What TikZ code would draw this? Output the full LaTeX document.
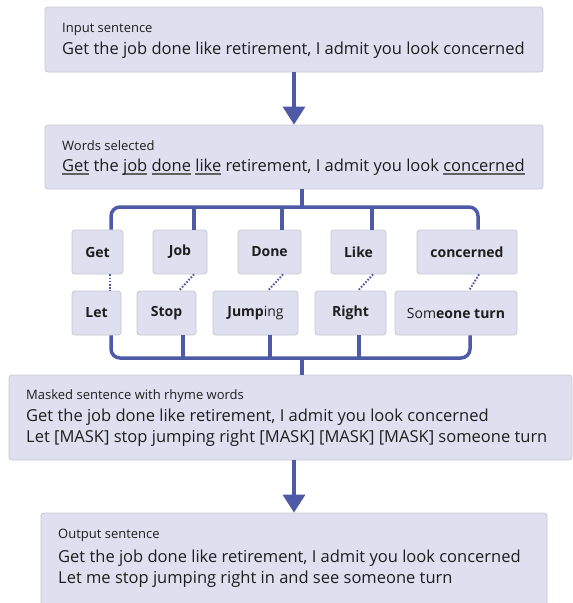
\documentclass[tikz,border=0pt]{standalone}
\usepackage{fontspec}
\setmainfont{Open Sans}
\usepackage{xcolor}
\usetikzlibrary{arrows.meta}
\definecolor{boxfill}{RGB}{222,224,239}
\definecolor{boxedge}{RGB}{198,200,212}
\definecolor{flowblue}{RGB}{78,90,166}
\definecolor{ink}{RGB}{30,30,30}
\newcommand\picked[1]{\sbox0{#1}\rlap{\raisebox{-3.5pt}{\color{ink!70}\rule{\wd0}{1.3pt}}}#1}

\begin{document}
\begin{tikzpicture}[x=1pt,y=-1pt]
\tikzset{panel/.style={draw=boxedge,fill=boxfill,rounded corners=3pt,line width=0.8pt}}
\tikzset{word/.style={panel,minimum height=44pt,inner sep=0pt,font=\fontsize{14}{16}\selectfont\bfseries,text=ink}}
\tikzset{heading/.style={anchor=base west,inner sep=0pt,text=ink,font=\fontsize{13}{15}\selectfont}}
\tikzset{body/.style={anchor=base west,inner sep=0pt,text=ink,font=\fontsize{16.5}{19}\selectfont}}
\tikzset{bus/.style={draw=flowblue,line width=3.5pt,rounded corners=9pt}}
\tikzset{flow/.style={draw=flowblue,line width=3.5pt,-{Triangle[width=22pt,length=18pt]}}}
\tikzset{rhyme/.style={draw=flowblue,line width=2pt,dash pattern=on 1.6pt off 1.6pt}}

\useasboundingbox (0,0) rectangle (573,603);

% panels
\node[panel,minimum width=498pt,minimum height=65pt] (in) at (294,39.5) {};
\node[panel,minimum width=498pt,minimum height=64pt] (sel) at (294,157) {};
\node[panel,minimum width=563pt,minimum height=85pt] (mask) at (290.5,417.5) {};
\node[panel,minimum width=506pt,minimum height=94pt] (out) at (294,560) {};

\node[heading] (intitle) at (62,32) {Input sentence};
\node[body] (intext) at (62,54) {Get the job done like retirement, I admit you look concerned};
\node[heading] (seltitle) at (62,150) {Words selected};
\node[body] (seltext) at (62,171) {\picked{Get} the \picked{job} \picked{done} \picked{like} retirement, I admit you look \picked{concerned}};
\node[heading] (masktitle) at (26,399) {Masked sentence with rhyme words};
\node[body] (maskone) at (26,421) {Get the job done like retirement, I admit you look concerned};
\node[body] (masktwo) at (26,442) {Let [MASK] stop jumping right [MASK] [MASK] [MASK] someone turn};
\node[heading] (outtitle) at (58,538) {Output sentence};
\node[body] (outone) at (58,562) {Get the job done like retirement, I admit you look concerned};
\node[body] (outtwo) at (58,583) {Let me stop jumping right in and see someone turn};

% selected words and rhymes
\node[word,minimum width=51pt] (get) at (97.5,252) {Get};
\node[word,minimum width=54pt] (job) at (180,252) {Job};
\node[word,minimum width=63pt] (done) at (269.5,252) {Done};
\node[word,minimum width=55pt] (like) at (358.5,252) {Like};
\node[word,minimum width=100pt] (concerned) at (467,252) {concerned};
\node[word,minimum width=49pt] (let) at (96.5,313) {Let};
\node[word,minimum width=59pt] (stop) at (166.5,313) {Stop};
\node[word,minimum width=85pt] (jumping) at (255.5,313) {Jump\mdseries ing};
\node[word,minimum width=71pt] (right) at (350.5,313) {Right};
\node[word,minimum width=122pt] (someone) at (456,313) {\mdseries Som\bfseries eone turn};

\coordinate (bustop) at (0,207);
\coordinate (busbot) at (0,358);

\draw[flow] (in.south) -- (sel.north);
\draw[bus] ([xshift=8pt]sel.south) -- ([xshift=8pt]sel.south |- bustop);
\draw[bus] ([xshift=13.5pt]get.north) |- ([xshift=11pt]concerned.north |- bustop) -- ([xshift=11pt]concerned.north);
\foreach \w/\s in {job/14,done/12.5,like/13.5}
  \draw[bus] ([xshift=\s pt]\w.north) -- ([xshift=\s pt]\w.north |- bustop);

\foreach \a/\b/\s/\t in {get/let/12.5/13.5,job/stop/14/12.5,done/jumping/13.5/12.5,like/right/14.5/7.5,concerned/someone/12/13}
  \draw[rhyme] ([xshift=\s pt]\a.south) -- ([xshift=\t pt]\b.north);

\draw[bus] ([xshift=14.5pt]let.south) |- ([xshift=14pt]someone.south |- busbot) -- ([xshift=14pt]someone.south);
\foreach \w/\s in {stop/16.5,jumping/14.5,right/8.5}
  \draw[bus] ([xshift=\s pt]\w.south) -- ([xshift=\s pt]\w.south |- busbot);
\draw[bus] ([xshift=8pt]sel.south |- busbot) -- ([xshift=8pt]sel.south |- mask.north);

\draw[flow] (mask.south -| out.north) -- (out.north);
\end{tikzpicture}
\end{document}
